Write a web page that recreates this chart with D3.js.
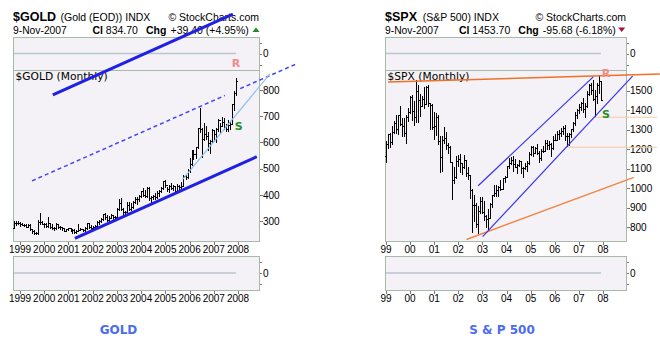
<!DOCTYPE html>
<html><head><meta charset="utf-8">
<script src="https://cdn.jsdelivr.net/npm/d3@7"></script>
<style>body{margin:0;background:#fff}svg{display:block}</style>
</head><body>
<svg id="c" width="660" height="347"></svg>
<script>
// ---------- DATA ----------
const goldFirstMonth = "1998-09";
const goldHigh = [300,302,300,296,
 293,291,290,290,290,268,265,260,305,330,300,295,
 292,318,295,290,280,292,290,282,276,275,270,275,
 274,270,270,265,290,275,271,280,295,293,286,282,
 287,303,305,312,328,330,325,320,327,325,322,350,
 386,390,352,341,373,372,368,376,392,392,400,417,
 428,419,431,432,396,399,409,415,420,431,455,456,
 430,438,445,438,436,442,438,448,475,478,498,540,
 570,573,584,655,730,655,676,662,640,610,650,648,
 655,690,674,697,692,672,684,682,747,797,846];
const goldLow = [276,287,290,284,
 285,283,278,278,268,257,252,252,253,290,288,278,
 280,280,276,270,265,270,276,270,268,263,262,268,
 262,255,255,254,262,265,264,264,270,275,271,270,
 276,282,288,298,305,310,302,300,311,310,313,318,
 344,344,325,320,334,342,342,350,370,367,378,392,
 398,392,392,381,372,386,385,389,398,410,422,430,
 415,410,424,421,414,412,418,425,433,460,466,488,
 513,538,540,580,640,543,610,612,573,560,600,605,
 603,645,640,665,652,642,645,650,675,725,782];
const goldClose = [294,292,294,288,
 287,287,280,286,272,262,256,255,299,299,291,290,
 283,293,279,274,273,289,277,277,273,264,269,273,
 265,267,258,264,267,271,265,273,293,279,275,279,
 282,297,302,309,326,318,305,314,323,317,318,347,
 368,348,334,337,363,346,354,375,385,386,397,416,
 400,396,427,388,394,396,391,409,416,428,453,438,
 423,435,428,436,417,435,430,434,473,470,496,517,
 568,556,583,654,652,613,633,626,599,604,646,632,
 650,685,661,679,659,650,665,672,745,789,835];
const goldOpen = [273,294,292,294,
 288,287,287,280,286,272,262,256,255,299,299,291,
 290,283,293,279,274,273,289,277,277,273,264,269,
 273,265,267,258,264,267,271,265,273,293,279,275,
 279,282,297,302,309,326,318,305,314,323,317,318,
 347,368,348,334,337,363,346,354,375,385,386,397,
 416,400,396,427,388,394,396,391,409,416,428,453,
 438,423,435,428,436,417,435,430,434,473,470,496,
 517,568,556,583,654,652,613,633,626,599,604,646,
 632,650,685,661,679,659,650,665,672,745,789];

const spxFirstMonth = "1998-12";
const spxHigh = [1244,
 1280,1282,1317,1346,1374,1374,1420,1360,1360,1376,1410,1473,
 1478,1445,1553,1528,1481,1474,1517,1525,1531,1437,1432,1390,
 1384,1377,1268,1270,1316,1289,1234,1217,1135,1111,1163,1173,
 1176,1131,1173,1147,1107,1070,994,966,924,908,954,954,
 936,864,895,924,965,1016,1016,1011,1040,1054,1063,1112,
 1155,1159,1163,1150,1127,1146,1141,1110,1129,1142,1188,1217,
 1217,1213,1229,1192,1199,1219,1246,1246,1243,1233,1270,1276,
 1295,1297,1310,1319,1326,1284,1281,1306,1340,1389,1407,1431,
 1441,1462,1438,1499,1535,1540,1555,1504,1538,1576,1552];
const spxLow = [1137,
 1205,1212,1228,1282,1282,1279,1325,1268,1269,1233,1343,1387,
 1350,1325,1340,1340,1370,1420,1410,1430,1420,1305,1306,1255,
 1275,1228,1081,1091,1232,1202,1183,1133,944,1026,1054,1114,
 1081,1074,1106,1063,1048,952,776,833,800,769,873,872,
 840,800,789,848,902,962,962,960,990,996,1031,1060,
 1105,1124,1087,1107,1076,1113,1078,1060,1099,1090,1127,1173,
 1163,1180,1176,1137,1147,1188,1191,1202,1201,1168,1201,1246,
 1245,1253,1268,1280,1245,1219,1224,1264,1291,1326,1360,1385,
 1403,1389,1364,1416,1476,1485,1454,1370,1439,1489,1451];
const spxClose = [1229,
 1280,1238,1286,1335,1302,1373,1329,1320,1283,1363,1389,1469,
 1394,1366,1499,1452,1421,1455,1431,1518,1437,1429,1315,1320,
 1366,1240,1160,1249,1256,1224,1211,1134,1041,1060,1139,1148,
 1130,1107,1147,1077,1067,990,912,916,815,886,936,880,
 856,841,848,917,964,975,990,1008,996,1051,1058,1112,
 1131,1145,1126,1107,1121,1141,1102,1104,1115,1130,1174,1212,
 1181,1204,1181,1157,1192,1191,1234,1220,1229,1207,1249,1248,
 1280,1281,1295,1311,1270,1270,1277,1304,1336,1378,1401,1418,
 1438,1407,1421,1482,1531,1503,1455,1474,1527,1549,1454];
const spxOpen = [1163,
 1229,1280,1238,1286,1335,1302,1373,1329,1320,1283,1363,1389,
 1469,1394,1366,1499,1452,1421,1455,1431,1518,1437,1429,1315,
 1320,1366,1240,1160,1249,1256,1224,1211,1134,1041,1060,1139,
 1148,1130,1107,1147,1077,1067,990,912,916,815,886,936,
 880,856,841,848,917,964,975,990,1008,996,1051,1058,
 1112,1131,1145,1126,1107,1121,1141,1102,1104,1115,1130,1174,
 1212,1181,1204,1181,1157,1192,1191,1234,1220,1229,1207,1249,
 1248,1280,1281,1295,1311,1270,1270,1277,1304,1336,1378,1401,
 1418,1438,1407,1421,1482,1531,1503,1455,1474,1527,1549];

const yearTicks = ["1999","2000","2001","2002","2003","2004","2005","2006","2007","2008"];
const goldYTicks = [300,400,500,600,700,800];
const spxYTicks = [800,900,1000,1100,1200,1300,1400,1500];

// trendlines: [date, value] endpoints
const goldLines = [
  {pts:[["2000-05-10",781],["2007-10-16",1089]], color:"#1f1fe6", w:3, dash:null},
  {pts:[["2001-04-08",235],["2008-10-10",546]], color:"#1f1fe6", w:3, dash:null},
  {pts:[["1999-07-01",454],["2007-06-18",779]], color:"#4444f2", w:1.5, dash:"4,3"},
  {pts:[["2008-02-03",805],["2010-06-07",900]], color:"#4444f2", w:1.5, dash:"4,3"},
  {pts:[["2005-09-18",460],["2009-04-26",861]], color:"#8fc0f2", w:1.2, dash:null}
];
const spxLines = [
  {pts:[["2006-06-03",1210],["2010-03-27",1210]], color:"#f8c8a0", w:1, dash:null},
  {pts:[["2007-08-06",1364],["2010-03-27",1364]], color:"#f8c8a0", w:1, dash:null},
  {pts:[["1999-02-01",1544],["2010-05-12",1585]], color:"#f07028", w:1.5, dash:null},
  {pts:[["2002-05-05",738],["2009-04-12",1056]], color:"#f38442", w:1.5, dash:null},
  {pts:[["2002-10-28",1013],["2007-08-06",1571]], color:"#3535ee", w:1.2, dash:null},
  {pts:[["2003-01-04",752],["2009-03-24",1575]], color:"#3535ee", w:1.2, dash:null}
];

// ---------- DRAW ----------
const svg = d3.select("#c");
const pd = d3.timeParse("%Y-%m-%d");
const pm = d3.timeParse("%Y-%m");
const FONT = "'Liberation Sans', Arial, sans-serif";
const VFONT = "'DejaVu Sans', Verdana, sans-serif";

function drawChart(o) {
  const g = svg.append("g");
  const xs = d3.scaleTime().domain([pd("1999-01-01"), pd("2008-01-01")]).range(o.xr);
  const ys = d3.scaleLinear().domain(o.yd).range([241, 70]);
  const yTop = d3.scaleLinear().domain([-1.5, 1.5]).range([70, 37]);
  const yBot = d3.scaleLinear().domain([-1.5, 1.5]).range([290, 256]);
  const start = pm(o.first);
  const bars = o.high.map((h, i) => ({
    date: d3.timeMonth.offset(start, i + 1), h, l: o.low[i], c: o.close[i], op: o.open[i]
  }));
  const lastD = bars[bars.length - 1].date;

  // panels
  [[37, 70], [70, 241], [256, 290]].forEach(([a, b]) => {
    g.append("rect").attr("x", o.x0 + 0.5).attr("y", a + 0.5)
      .attr("width", o.x1 - o.x0).attr("height", b - a)
      .attr("fill", "#f4f2f7").attr("stroke", "#a9b9a9").attr("stroke-width", 1);
  });
  // zero lines
  [yTop, yBot].forEach(sc => {
    g.append("line").attr("x1", o.x0 + 1).attr("x2", xs(lastD))
      .attr("y1", sc(0)).attr("y2", sc(0))
      .attr("stroke", "#b9c5cf").attr("stroke-width", 1.6);
    g.append("text").attr("x", o.x1 + 4).attr("y", sc(0) + 3.5)
      .attr("font-family", FONT).attr("font-size", 10).text("0");
    [-1, 0, 1].forEach(v => {
      g.append("line").attr("x1", o.x1 + 1).attr("x2", o.x1 + 3)
        .attr("y1", Math.round(sc(v)) + 0.5).attr("y2", Math.round(sc(v)) + 0.5)
        .attr("stroke", "#777");
    });
  });

  // bars
  let p = "";
  bars.forEach(d => {
    const x = Math.round(xs(d.date)) + 0.5;
    const yo = Math.round(ys(d.op)) + 0.5, yc = Math.round(ys(d.c)) + 0.5;
    p += `M${x},${Math.round(ys(d.h))}V${Math.round(ys(d.l)) + 1}M${x - 1.5},${yo}H${x}M${x},${yc}H${x + 1.5}`;
  });
  g.append("path").attr("d", p).attr("stroke", "#000").attr("stroke-width", 1)
    .attr("fill", "none").attr("shape-rendering", "crispEdges");

  // y axis
  o.yt.forEach(v => {
    const y = ys(v);
    g.append("line").attr("x1", o.x1 + 1).attr("x2", o.x1 + 4)
      .attr("y1", Math.round(y) + 0.5).attr("y2", Math.round(y) + 0.5).attr("stroke", "#777");
    g.append("text").attr("x", o.x1 + 4).attr("y", y + 3.6)
      .attr("font-family", FONT).attr("font-size", 10).text(v);
  });
  // x axes
  const fmt = d3.timeFormat(o.xfmt);
  yearTicks.forEach(t => {
    const d = pd(t + "-01-01"), x = Math.round(xs(d)) + 0.5;
    [241, 290].forEach(yb => {
      g.append("line").attr("x1", x).attr("x2", x).attr("y1", yb + 1).attr("y2", yb + 4)
        .attr("stroke", "#777");
      g.append("text").attr("x", xs(d)).attr("y", yb + 12).attr("text-anchor", "middle")
        .attr("font-family", FONT).attr("font-size", 10).text(fmt(d));
    });
  });

  // titles
  const t1 = (x, y, txt, size, bold, anchor) => g.append("text").attr("x", x).attr("y", y)
      .attr("font-family", FONT).attr("font-size", size)
      .attr("font-weight", bold ? "bold" : "normal")
      .attr("text-anchor", anchor || "start").text(txt);
  t1(o.x0, 20.5, o.sym, 12.5, true);
  t1(o.nameX, 20.5, o.name, 10.5, false);
  t1(o.x1, 20.5, "© StockCharts.com", 10.5, false, "end");
  t1(o.x0, 33.5, "9-Nov-2007", 10.3, false);
  t1(o.clX, 33.5, "Cl", 10.5, true);
  t1(o.clX + 13.3, 33.5, o.cl, 10.5, false);
  t1(o.chgX, 33.5, "Chg", 10.5, true);
  t1(o.chgX + 24.5, 33.5, o.chg, 10.5, false);
  const ax = o.arrowX;
  g.append("path").attr("d", o.up ? `M${ax - 3.5},32L${ax + 3.5},32L${ax},27.5Z`
                                  : `M${ax - 3.5},27.5L${ax + 3.5},27.5L${ax},32Z`)
    .attr("fill", o.up ? "#238b23" : "#a3123c");
  g.append("text").attr("x", o.x0 + 2.5).attr("y", 80).attr("font-family", VFONT)
    .attr("font-size", 10.7).text(o.sym + " (Monthly)");

  // trendlines
  const line = d3.line().x(d => xs(pd(d[0]))).y(d => ys(d[1]));
  o.lines.forEach(L => {
    g.append("path").attr("d", line(L.pts)).attr("stroke", L.color)
      .attr("stroke-width", L.w).attr("fill", "none")
      .attr("stroke-dasharray", L.dash);
  });
  // R / S marks
  [["R", o.r, "#f28a8a"], ["S", o.s, "#229022"]].forEach(([t, pt, c]) => {
    g.append("text").attr("x", xs(pd(pt[0]))).attr("y", ys(pt[1]) + 4)
      .attr("text-anchor", "middle").attr("font-family", VFONT).attr("font-weight", "bold")
      .attr("font-size", 11).attr("fill", c).text(t);
  });
  // bottom caption
  g.append("text").attr("x", o.capX).attr("y", 333.5).attr("text-anchor", "middle")
    .attr("font-family", VFONT).attr("font-weight", "bold").attr("font-size", 12)
    .attr("fill", "#4b6cf2").text(o.cap);
}

drawChart({
  x0: 13, x1: 259, xr: [20, 238], yd: [225, 876], first: goldFirstMonth,
  high: goldHigh, low: goldLow, close: goldClose, open: goldOpen,
  yt: goldYTicks, xfmt: "%Y", sym: "$GOLD", name: "(Gold (EOD)) INDX", nameX: 60.5,
  cl: "834.70", chg: "+39.40 (+4.95%)", clX: 92.5, chgX: 146, arrowX: 256, up: true,
  lines: goldLines, r: ["2007-12-01", 901], s: ["2008-01-10", 663],
  cap: "GOLD", capX: 118.5
});
drawChart({
  x0: 385, x1: 626, xr: [386, 603], yd: [730, 1606], first: spxFirstMonth,
  high: spxHigh, low: spxLow, close: spxClose, open: spxOpen,
  yt: spxYTicks, xfmt: "%y", sym: "$SPX", name: "(S&P 500) INDX", nameX: 422.7,
  cl: "1453.70", chg: "-95.68 (-6.18%)", clX: 459, chgX: 518.3, arrowX: 621.7, up: false,
  lines: spxLines, r: ["2008-02-15", 1591], s: ["2008-02-15", 1380],
  cap: "S & P 500", capX: 502
});
</script>
</body></html>
